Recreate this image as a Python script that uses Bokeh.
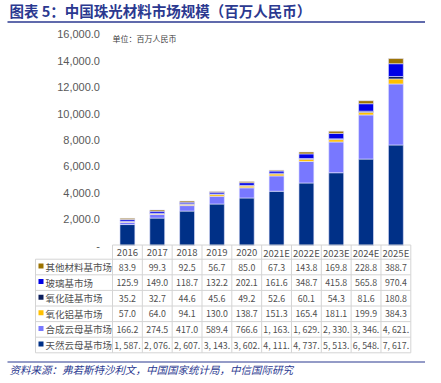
from bokeh.plotting import figure
from bokeh.models import Range1d, ColumnDataSource
from bokeh.core.properties import value
from bokeh.embed import file_html
from bokeh.resources import INLINE

# ---------------- data ----------------
years = ["2016", "2017", "2018", "2019", "2020", "2021E", "2022E", "2023E", "2024E", "2025E"]
natural = [1587, 2076, 2607, 3143, 3602, 4111, 4737, 5513, 6548, 7617]
synthetic = [166.2, 274.5, 417.0, 589.4, 766.6, 1163, 1629, 2330, 3346, 4621]
alumina = [57.0, 64.0, 94.1, 130.0, 138.7, 151.3, 165.4, 181.1, 199.9, 384.3]
silica = [35.2, 32.7, 44.6, 45.6, 49.2, 52.6, 60.1, 54.3, 81.6, 180.8]
glass = [125.9, 149.0, 118.7, 132.2, 202.1, 161.6, 348.7, 415.8, 565.8, 970.4]
other = [83.9, 99.3, 92.5, 56.7, 85.0, 67.3, 143.8, 169.8, 228.8, 388.7]

# table rows top -> bottom
row_names = ["其他材料基市场", "玻璃基市场", "氧化硅基市场", "氧化铝基市场", "合成云母基市场", "天然云母基市场"]
row_values = [other, glass, silica, alumina, synthetic, natural]
row_colors = ["#9c7300", "#0000e6", "#0c1f5c", "#ffc000", "#7878ff", "#003087"]

y_ticks = [0, 2000, 4000, 6000, 8000, 10000, 12000, 14000, 16000]
y_tick_labels = ["-", "2,000.0", "4,000.0", "6,000.0", "8,000.0", "10,000.0", "12,000.0", "14,000.0", "16,000.0"]

title_text = "图表 5：中国珠光材料市场规模（百万人民币）"
unit_text = "单位：百万人民币"
source_text = "资料来源：弗若斯特沙利文，中国国家统计局，中信国际研究"

# ---------------- layout constants ----------------
W, H = 425, 375
COLW = 29.83
X_ORIGIN = 112.0          # canvas px of column 0 left edge
ZERO_Y = 245.0            # canvas px of value 0
PX_PER_UNIT = 0.0132      # px per value unit
FONT = "Noto Sans CJK SC"
BLUE = "#2b3990"
GRID = "#d4d4d4"
TXT = "#505050"

p = figure(width=W, height=H, output_backend="svg", toolbar_location=None,
           x_axis_location=None, y_axis_location=None,
           x_range=Range1d(-X_ORIGIN / COLW, (W - X_ORIGIN) / COLW),
           y_range=Range1d((ZERO_Y - H) / PX_PER_UNIT, ZERO_Y / PX_PER_UNIT),
           min_border=0)
p.outline_line_color = None
p.grid.grid_line_color = None
p.background_fill_color = "white"
p.border_fill_color = "white"
p.extra_x_ranges = {"px": Range1d(0, W)}
p.extra_y_ranges = {"px": Range1d(H, 0)}

# ---------------- bars ----------------
src = ColumnDataSource(dict(
    x=[i + 0.5 for i in range(len(years))],
    natural=natural, synthetic=synthetic, alumina=alumina,
    silica=silica, glass=glass, other=other))
stack_keys = ["natural", "synthetic", "alumina", "silica", "glass", "other"]
stack_colors = ["#003087", "#7878ff", "#ffc000", "#0c1f5c", "#0000e6", "#9c7300"]
p.vbar_stack(stack_keys, x="x", width=0.5, fill_color=stack_colors,
             line_color="#e6e6ff", line_width=0.6, source=src)

# ---------------- y tick labels ----------------
p.text(x=[-0.42] * len(y_ticks), y=y_ticks, text=y_tick_labels,
       text_align="right", text_baseline="middle",
       text_font=value("Liberation Sans"), text_font_size="11px", text_color="#595959")

# unit label
p.text(x=[112], y=[38], text=[unit_text], x_range_name="px", y_range_name="px",
       text_baseline="middle", text_font=value(FONT), text_font_size="8px", text_color="#404040")

# ---------------- title ----------------
p.text(x=[9], y=[10], text=[title_text], x_range_name="px", y_range_name="px",
       text_baseline="middle", text_font=value(FONT), text_font_size="14.5px",
       text_font_style="bold", text_color=BLUE)
p.segment(x0=[7], y0=[21.5], x1=[425], y1=[21.5], x_range_name="px", y_range_name="px",
          line_color=BLUE, line_width=1.5)

# ---------------- table ----------------
HEAD_BOTTOM = 258.7
ROW_H = 15.6
n_rows = len(row_names)
TABLE_BOTTOM = HEAD_BOTTOM + ROW_H * n_rows
TABLE_LEFT_COL = (35 - X_ORIGIN) / COLW
ncol = len(years)

# top line (x axis)
p.segment(x0=[0], y0=[ZERO_Y - 0.5], x1=[ncol], y1=[ZERO_Y - 0.5], y_range_name="px",
          line_color=GRID, line_width=1)
# horizontal lines
hy = [HEAD_BOTTOM + ROW_H * r for r in range(n_rows + 1)]
p.segment(x0=[TABLE_LEFT_COL] * len(hy), y0=hy, x1=[ncol] * len(hy), y1=hy,
          y_range_name="px", line_color=GRID, line_width=1)
# vertical lines
vx = list(range(ncol + 1))
p.segment(x0=vx, y0=[ZERO_Y - 0.5] * len(vx), x1=vx, y1=[TABLE_BOTTOM] * len(vx),
          y_range_name="px", line_color=GRID, line_width=1)
p.segment(x0=[TABLE_LEFT_COL], y0=[HEAD_BOTTOM], x1=[TABLE_LEFT_COL], y1=[TABLE_BOTTOM],
          y_range_name="px", line_color=GRID, line_width=1)

# header years
p.text(x=[i + 0.5 for i in range(ncol)], y=[(ZERO_Y + HEAD_BOTTOM) / 2 + 0.5] * ncol, text=years,
       y_range_name="px", text_align="center", text_baseline="middle",
       text_font=value(FONT), text_font_size="9.5px", text_color=TXT)


def fmt(v):
    if v >= 1000:
        return "{:,}.".format(int(v)).replace(",", ", ")
    return "{:.1f}".format(v)


for r, (name, vals, col) in enumerate(zip(row_names, row_values, row_colors)):
    cy = HEAD_BOTTOM + ROW_H * (r + 0.5)
    p.rect(x=[40.5], y=[cy - 1], width=5, height=5, x_range_name="px", y_range_name="px",
           fill_color=col, line_color=None)
    p.text(x=[45], y=[cy], text=[name], x_range_name="px", y_range_name="px",
           text_baseline="middle", text_font=value(FONT), text_font_size="9.5px", text_color=TXT)
    p.text(x=[i + 0.5 for i in range(ncol)], y=[cy] * ncol, text=[fmt(v) for v in vals],
           y_range_name="px", text_align="center", text_baseline="middle",
           text_font=value(FONT), text_font_size="8.8px", text_color=TXT)

# ---------------- source ----------------
p.segment(x0=[7], y0=[361.5], x1=[425], y1=[361.5], x_range_name="px", y_range_name="px",
          line_color=BLUE, line_width=1.2)
p.text(x=[9], y=[368.5], text=[source_text], x_range_name="px", y_range_name="px",
       text_baseline="middle", text_font=value(FONT), text_font_size="10.5px",
       text_font_style="italic", text_color=BLUE)

open("out.html", "w").write(file_html(p, INLINE))
